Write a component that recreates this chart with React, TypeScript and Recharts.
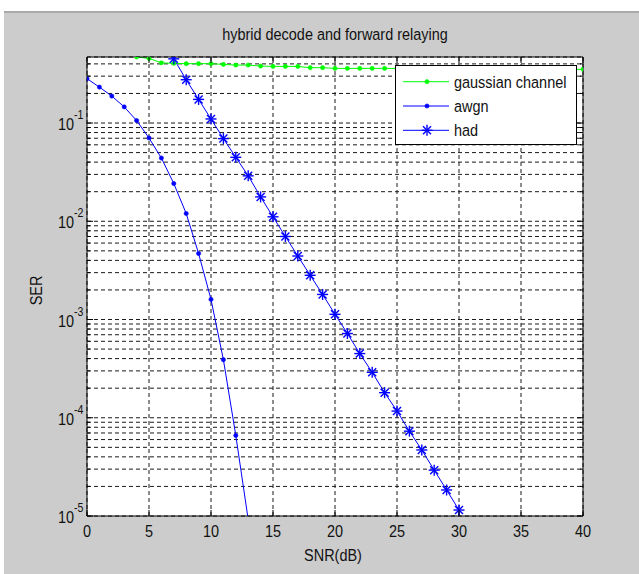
import React from 'react';
import { LineChart, Line, XAxis, YAxis, CartesianGrid, Legend, Label } from 'recharts';

const FONT = '"Liberation Sans", Arial, Helvetica, sans-serif';
const SX = 0.85;

const title = 'hybrid decode and forward relaying';
const xLabel = 'SNR(dB)';
const yLabel = 'SER';

const snr = [0, 1, 2, 3, 4, 5, 6, 7, 8, 9, 10, 11, 12, 13, 14, 15, 16, 17, 18, 19, 20, 21, 22, 23, 24, 25, 26, 27, 28, 29, 30, 31, 32, 33, 34, 35, 36, 37, 38, 39, 40];

const gaussianName = 'gaussian channel';
const gaussianSnr = [3, 4, 5, 6, 7, 8, 9, 10, 11, 12, 13, 14, 15, 16, 17, 18, 19, 20, 21, 22, 23, 24, 25, 26, 27, 28, 29, 30, 31, 32, 33, 34, 35, 36, 37, 38, 39, 40];
const gaussianSer = [0.52, 0.47, 0.455, 0.41, 0.405, 0.402, 0.402, 0.402, 0.395, 0.389, 0.389, 0.38, 0.377, 0.377, 0.377, 0.366, 0.366, 0.36, 0.36, 0.36, 0.36, 0.36, 0.359, 0.358, 0.358, 0.357, 0.357, 0.356, 0.356, 0.355, 0.355, 0.354, 0.354, 0.353, 0.353, 0.352, 0.352, 0.352];

const awgnName = 'awgn';
const awgnSnr = [0, 1, 2, 3, 4, 5, 6, 7, 8, 9, 10, 11, 12, 13];
const awgnSer = [0.283, 0.232, 0.188, 0.146, 0.106, 0.0704, 0.044, 0.0242, 0.012, 0.0047, 0.0016, 0.00039, 0.000066, 0.0000092];

const hadName = 'had';
const hadSnr = [7, 8, 9, 10, 11, 12, 13, 14, 15, 16, 17, 18, 19, 20, 21, 22, 23, 24, 25, 26, 27, 28, 29, 30];
const hadSer = [0.45, 0.276, 0.174, 0.11, 0.0694, 0.0448, 0.029, 0.0177, 0.0111, 0.007, 0.00443, 0.00282, 0.0018, 0.00113, 0.00072, 0.00045, 0.00029, 0.00018, 0.000117, 0.000073, 0.000047, 0.0000293, 0.0000184, 0.0000115];

const seriesOrder = ['gaussian', 'awgn', 'had'];

const xTicks = [0, 5, 10, 15, 20, 25, 30, 35, 40];
const yDecades = [0.00001, 0.0001, 0.001, 0.01, 0.1];
const yExponents = ['-5', '-4', '-3', '-2', '-1'];
const yMinor = [
  0.00002, 0.00003, 0.00004, 0.00005, 0.00006, 0.00007, 0.00008, 0.00009,
  0.0002, 0.0003, 0.0004, 0.0005, 0.0006, 0.0007, 0.0008, 0.0009,
  0.002, 0.003, 0.004, 0.005, 0.006, 0.007, 0.008, 0.009,
  0.02, 0.03, 0.04, 0.05, 0.06, 0.07, 0.08, 0.09,
  0.2, 0.3, 0.4,
];
const yDomain = [0.00001, 0.47];

const GREEN = '#00ff00';
const BLUE = '#0000ff';

const yTicks = [...yDecades, ...yMinor].sort((a, b) => a - b);

const table = snr.map((s) => {
  const gi = gaussianSnr.indexOf(s);
  const ai = awgnSnr.indexOf(s);
  const hi = hadSnr.indexOf(s);
  return {
    snr: s,
    gaussian: gi >= 0 ? gaussianSer[gi] : undefined,
    awgn: ai >= 0 ? awgnSer[ai] : undefined,
    had: hi >= 0 ? hadSer[hi] : undefined,
  };
});

function SText({ x, y, anchor = 'start', size = 17, children }: any) {
  return (
    <g transform={`translate(${x},${y}) scale(${SX},1)`}>
      <text x={0} y={0} textAnchor={anchor} fontSize={size} fontFamily={FONT} fill="#111">
        {children}
      </text>
    </g>
  );
}

function DotMarker({ cx, cy, color }: any) {
  return <circle cx={cx} cy={cy} r={2.1} fill={color} stroke={color} strokeWidth={0.6} />;
}

function StarMarker({ cx, cy, color }: any) {
  const a = 5.5;
  const d = 4;
  return (
    <g stroke={color} strokeWidth={1.4}>
      <line x1={cx - a} y1={cy} x2={cx + a} y2={cy} />
      <line x1={cx} y1={cy - a} x2={cx} y2={cy + a} />
      <line x1={cx - d} y1={cy - d} x2={cx + d} y2={cy + d} />
      <line x1={cx - d} y1={cy + d} x2={cx + d} y2={cy - d} />
    </g>
  );
}

const makeDot = (kind: string, color: string) => (props: any) => {
  const { cx, cy, index } = props;
  if (cx == null || cy == null || isNaN(cx) || isNaN(cy)) return <g key={`e-${kind}-${index}`} />;
  return (
    <g key={`d-${kind}-${index}`}>
      {kind === 'star' ? <StarMarker cx={cx} cy={cy} color={color} /> : <DotMarker cx={cx} cy={cy} color={color} />}
    </g>
  );
};

function LeftTick(props: any) {
  const { x, y, payload } = props;
  const v = payload.value;
  const di = yDecades.findIndex((d) => Math.abs(d - v) / d < 1e-6);
  const major = di >= 0;
  return (
    <g>
      <line x1={x} x2={x + (major ? 6 : 3)} y1={y} y2={y} stroke="#000" />
      {major && (
        <>
          <SText x={x - 13} y={y + 7} anchor="end" size={17}>10</SText>
          <SText x={x - 13} y={y - 4} anchor="start" size={12.5}>{yExponents[di]}</SText>
        </>
      )}
    </g>
  );
}

function RightTick(props: any) {
  const { x, y, payload } = props;
  const v = payload.value;
  const major = yDecades.some((d) => Math.abs(d - v) / d < 1e-6);
  return <line x1={x} x2={x - (major ? 6 : 3)} y1={y} y2={y} stroke="#000" />;
}

function BottomTick(props: any) {
  const { x, y, payload } = props;
  return (
    <g>
      <line x1={x} x2={x} y1={y} y2={y - 6} stroke="#000" />
      <SText x={x} y={y + 21} anchor="middle" size={17}>{String(payload.value)}</SText>
    </g>
  );
}

function TopTick(props: any) {
  const { x, y } = props;
  return <line x1={x} x2={x} y1={y} y2={y + 6} stroke="#000" />;
}

const markerOf: Record<string, string> = { gaussian: 'dot', awgn: 'dot', had: 'star' };

function LegendBox(props: any) {
  const payload = [...(props.payload || [])].sort(
    (a: any, b: any) => seriesOrder.indexOf(String(a.dataKey)) - seriesOrder.indexOf(String(b.dataKey))
  );
  return (
    <div style={{ width: 182, height: 80, boxSizing: 'border-box', border: '1px solid #000', background: '#fff' }}>
      <svg width={180} height={78} style={{ display: 'block' }}>
        {payload.map((entry: any, i: number) => {
          const cy = 15.7 + i * 24.3;
          const color = entry.color;
          const kind = markerOf[entry.dataKey] || 'dot';
          return (
            <g key={`lg-${i}`}>
              <line x1={7} x2={53} y1={cy} y2={cy} stroke={color} strokeWidth={1} />
              {kind === 'star' ? <StarMarker cx={31} cy={cy} color={color} /> : <DotMarker cx={31} cy={cy} color={color} />}
              <SText x={58} y={cy + 6} size={17}>{entry.value}</SText>
            </g>
          );
        })}
      </svg>
    </div>
  );
}

export default function App() {
  return (
    <div style={{ position: 'absolute', left: 0, top: 0, width: 639, height: 574, background: '#fff', overflow: 'hidden' }}>
      <div style={{ position: 'absolute', left: 4, top: 11, right: 0, bottom: 0, background: '#cccccc', borderTop: '2px solid #a9a9a9' }} />
      <svg width={639} height={56} style={{ position: 'absolute', left: 0, top: 0 }}>
        <SText x={335} y={40} anchor="middle" size={17}>{title}</SText>
      </svg>
      <div style={{ position: 'absolute', left: 0, top: 0 }}>
        <LineChart width={639} height={574} data={table} margin={{ top: 0, right: 0, bottom: 0, left: 0 }}>
          <CartesianGrid stroke="#1a1a1a" strokeDasharray="4 3" fill="#ffffff" fillOpacity={1} />
          <XAxis
            dataKey="snr"
            type="number"
            domain={[0, 40]}
            ticks={xTicks}
            interval={0}
            allowDataOverflow
            height={58}
            tickSize={0}
            tickMargin={0}
            tickLine={false}
            axisLine={{ stroke: '#000' }}
            tick={(p: any) => <BottomTick {...p} />}
          >
            <Label
              content={(p: any) => {
                const vb = p.viewBox || { x: 87, y: 516, width: 496 };
                return <SText x={vb.x + vb.width / 2 - 2} y={vb.y + 45} anchor="middle" size={17}>{xLabel}</SText>;
              }}
            />
          </XAxis>
          <XAxis
            xAxisId="top"
            orientation="top"
            dataKey="snr"
            type="number"
            domain={[0, 40]}
            ticks={xTicks}
            interval={0}
            allowDataOverflow
            height={57}
            tickSize={0}
            tickMargin={0}
            tickLine={false}
            axisLine={{ stroke: '#000' }}
            tick={(p: any) => <TopTick {...p} />}
          />
          <YAxis
            type="number"
            scale="log"
            domain={yDomain}
            ticks={yTicks}
            interval={0}
            allowDataOverflow
            width={87}
            tickSize={0}
            tickMargin={0}
            tickLine={false}
            axisLine={{ stroke: '#000' }}
            tick={(p: any) => <LeftTick {...p} />}
          >
            <Label
              content={(p: any) => {
                const vb = p.viewBox || { x: 0, y: 57, height: 459 };
                const cx = 42;
                const cy = vb.y + vb.height / 2 + 4;
                return (
                  <g transform={`translate(${cx},${cy}) rotate(-90) scale(${SX},1)`}>
                    <text x={0} y={0} textAnchor="middle" fontSize={17} fontFamily={FONT} fill="#111">{yLabel}</text>
                  </g>
                );
              }}
            />
          </YAxis>
          <YAxis
            yAxisId="right"
            orientation="right"
            type="number"
            scale="log"
            domain={yDomain}
            ticks={yTicks}
            interval={0}
            allowDataOverflow
            width={56}
            tickSize={0}
            tickMargin={0}
            tickLine={false}
            axisLine={{ stroke: '#000' }}
            tick={(p: any) => <RightTick {...p} />}
          />
          <Line
            dataKey="gaussian"
            name={gaussianName}
            stroke={GREEN}
            strokeWidth={1}
            dot={makeDot('dot', GREEN)}
            isAnimationActive={false}
          />
          <Line
            dataKey="awgn"
            name={awgnName}
            stroke={BLUE}
            strokeWidth={1}
            dot={makeDot('dot', BLUE)}
            isAnimationActive={false}
          />
          <Line
            dataKey="had"
            name={hadName}
            stroke={BLUE}
            strokeWidth={1}
            dot={makeDot('star', BLUE)}
            isAnimationActive={false}
          />
          <Legend
            layout="vertical"
            align="center"
            verticalAlign="middle"
            wrapperStyle={{ position: 'absolute', left: 395, top: 65, width: 182, height: 80 }}
            content={(p: any) => <LegendBox {...p} />}
          />
        </LineChart>
      </div>
    </div>
  );
}
